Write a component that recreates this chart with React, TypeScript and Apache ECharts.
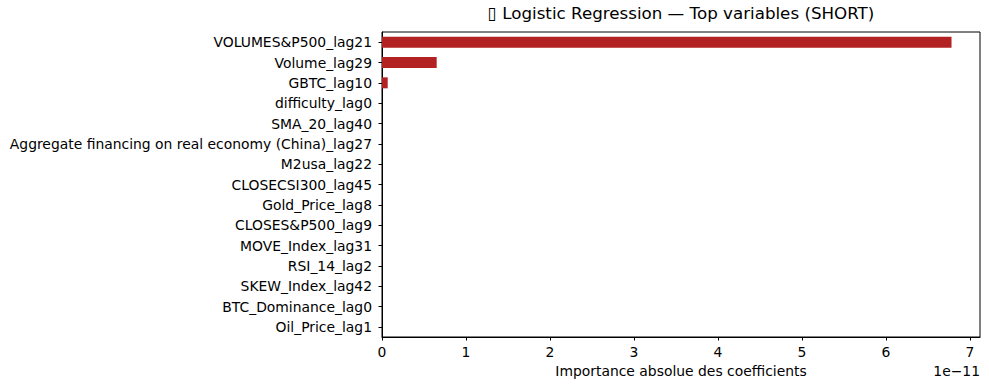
import React, { useEffect, useRef } from "react";
import * as echarts from "echarts";

const categories = [
  "VOLUMES&P500_lag21",
  "Volume_lag29",
  "GBTC_lag10",
  "difficulty_lag0",
  "SMA_20_lag40",
  "Aggregate financing on real economy (China)_lag27",
  "M2usa_lag22",
  "CLOSECSI300_lag45",
  "Gold_Price_lag8",
  "CLOSES&P500_lag9",
  "MOVE_Index_lag31",
  "RSI_14_lag2",
  "SKEW_Index_lag42",
  "BTC_Dominance_lag0",
  "Oil_Price_lag1",
];

const importance = [
  6.78e-11, 0.651e-11, 0.068e-11, 0, 0, 0, 0, 0, 0, 0, 0, 0, 0, 0, 0,
];

const scaleExp = 1e-11;
const xTicks = [0, 1, 2, 3, 4, 5, 6, 7];

const FONT = "DejaVu Sans";
const FS = 13.9;

export default function App() {
  const ref = useRef<HTMLDivElement>(null);
  useEffect(() => {
    if (!ref.current) return;
    const chart = echarts.init(ref.current, null, { renderer: "svg" });
    const scaled = importance.map((v) => v / scaleExp);
    const maxV = Math.max(...scaled) * 1.05;
    chart.setOption({
      animation: false,
      backgroundColor: "#ffffff",
      title: {
        text: "\u25AF Logistic Regression \u2014 Top variables (SHORT)",
        left: 681,
        top: 4,
        padding: 0,
        textAlign: "center",
        textStyle: {
          fontFamily: FONT,
          fontSize: 16.7,
          fontWeight: "normal",
          color: "#000",
        },
      },
      grid: {
        left: 382,
        right: 9,
        top: 32,
        bottom: 53,
        show: true,
        borderColor: "#000",
        borderWidth: 1,
        backgroundColor: "transparent",
      },
      xAxis: {
        type: "value",
        min: 0,
        max: maxV,
        interval: 1,
        splitLine: { show: false },
        axisLine: { show: true, lineStyle: { color: "#000", width: 1 } },
        axisTick: {
          show: true,
          length: 3.5,
          lineStyle: { color: "#000" },
          customValues: xTicks,
        },
        axisLabel: {
          customValues: xTicks,
          color: "#000",
          fontFamily: FONT,
          fontSize: FS,
          margin: 8,
        },
        name: "Importance absolue des coefficients",
        nameLocation: "middle",
        nameGap: 27,
        nameTextStyle: { color: "#000", fontFamily: FONT, fontSize: FS },
      },
      yAxis: {
        type: "category",
        data: categories,
        inverse: true,
        axisLine: { show: true, lineStyle: { color: "#000", width: 1 } },
        axisTick: {
          show: true,
          length: 3.5,
          alignWithLabel: true,
          lineStyle: { color: "#000" },
        },
        axisLabel: {
          color: "#000",
          fontFamily: FONT,
          fontSize: FS,
          margin: 10,
        },
        splitLine: { show: false },
      },
      graphic: [
        {
          type: "text",
          right: 9,
          top: 364,
          style: {
            text: "1e\u221211",
            fill: "#000",
            font: `${FS}px "${FONT}"`,
          },
        },
      ],
      series: [
        {
          type: "bar",
          data: scaled,
          barWidth: "54%",
          itemStyle: { color: "#B22222" },
        },
      ],
    });
    return () => chart.dispose();
  }, []);
  return <div ref={ref} style={{ width: 989, height: 390, position: "absolute", left: 0, top: 0 }} />;
}
